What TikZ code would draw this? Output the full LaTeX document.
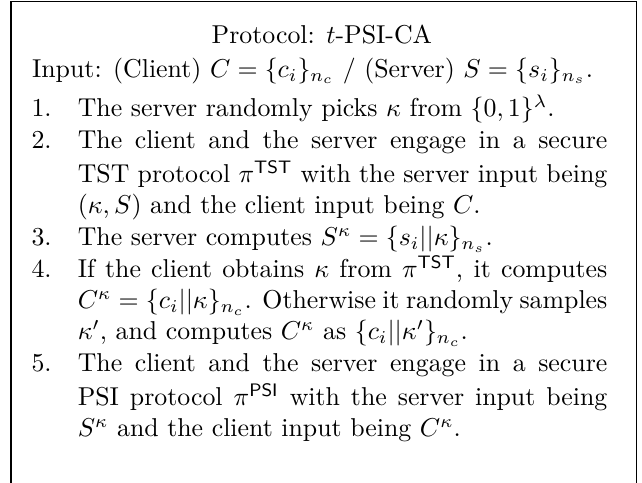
\documentclass[tikz,border=0pt]{standalone}
\usepackage{tikz}
\usetikzlibrary{positioning}

\begin{document}
\begin{tikzpicture}
	\tikzstyle{heading} = [inner sep=0pt]
	\tikzstyle{inputline} = [inner sep=0pt]
	\tikzstyle{itembody} = [inner sep=0pt,text width=205pt,align=justify]
	\tikzstyle{itemnum} = [inner sep=0pt,text width=17.5pt,align=left]
	
	\useasboundingbox (0,0) rectangle (248.5pt,-186.9pt);
	
	% Frame (open at the bottom)
	\coordinate (frameBL) at (4.26pt,-186.9pt);
	\coordinate (frameTR) at (246.5pt,-0.6pt);
	\coordinate (frameBR) at (246.5pt,-186.9pt);
	\draw [line width=0.45pt] (frameBL) |- (frameTR) -- (frameBR);
	
	% Title and input
	\node [heading, anchor=base] (title) at (124.6pt,-17pt) {Protocol: $t$-PSI-CA};
	\node [inputline, anchor=base west] (input) at (12.2pt,-30pt) {Input: (Client) $C=\{c_i\}_{n_c}$ / (Server) $S=\{s_i\}_{n_s}$.};
	
	% Steps
	\node [itembody, anchor=north west] (s1) at (29.9pt,-36.5pt) {\strut The server randomly picks $\kappa$ from $\{0,1\}^\lambda$.\strut};
	\node [itembody, below=0pt of s1] (s2) {\strut The client and the server engage in a secure TST protocol $\pi^{\mathsf{TST}}$ with the server input being $(\kappa,S)$ and the client input being $C$.\strut};
	\node [itembody, below=0pt of s2] (s3) {\strut The server computes $S^\kappa=\{s_i||\kappa\}_{n_s}$.\strut};
	\node [itembody, below=0pt of s3] (s4) {\strut If the client obtains $\kappa$ from $\pi^{\mathsf{TST}}$, it computes $C^\kappa=\{c_i||\kappa\}_{n_c}$. Otherwise it randomly samples $\kappa'$, and computes $C^\kappa$ as $\{c_i||\kappa'\}_{n_c}$.\strut};
	\node [itembody, below=0pt of s4] (s5) {\strut The client and the server engage in a secure PSI protocol $\pi^{\mathsf{PSI}}$ with the server input being $S^\kappa$ and the client input being $C^\kappa$.\strut};
	
	% Numbers
	\node [itemnum, base left=0pt of s1] (n1) {1.};
	\node [itemnum, base left=0pt of s2] (n2) {2.};
	\node [itemnum, base left=0pt of s3] (n3) {3.};
	\node [itemnum, base left=0pt of s4] (n4) {4.};
	\node [itemnum, base left=0pt of s5] (n5) {5.};
\end{tikzpicture}
\end{document}
